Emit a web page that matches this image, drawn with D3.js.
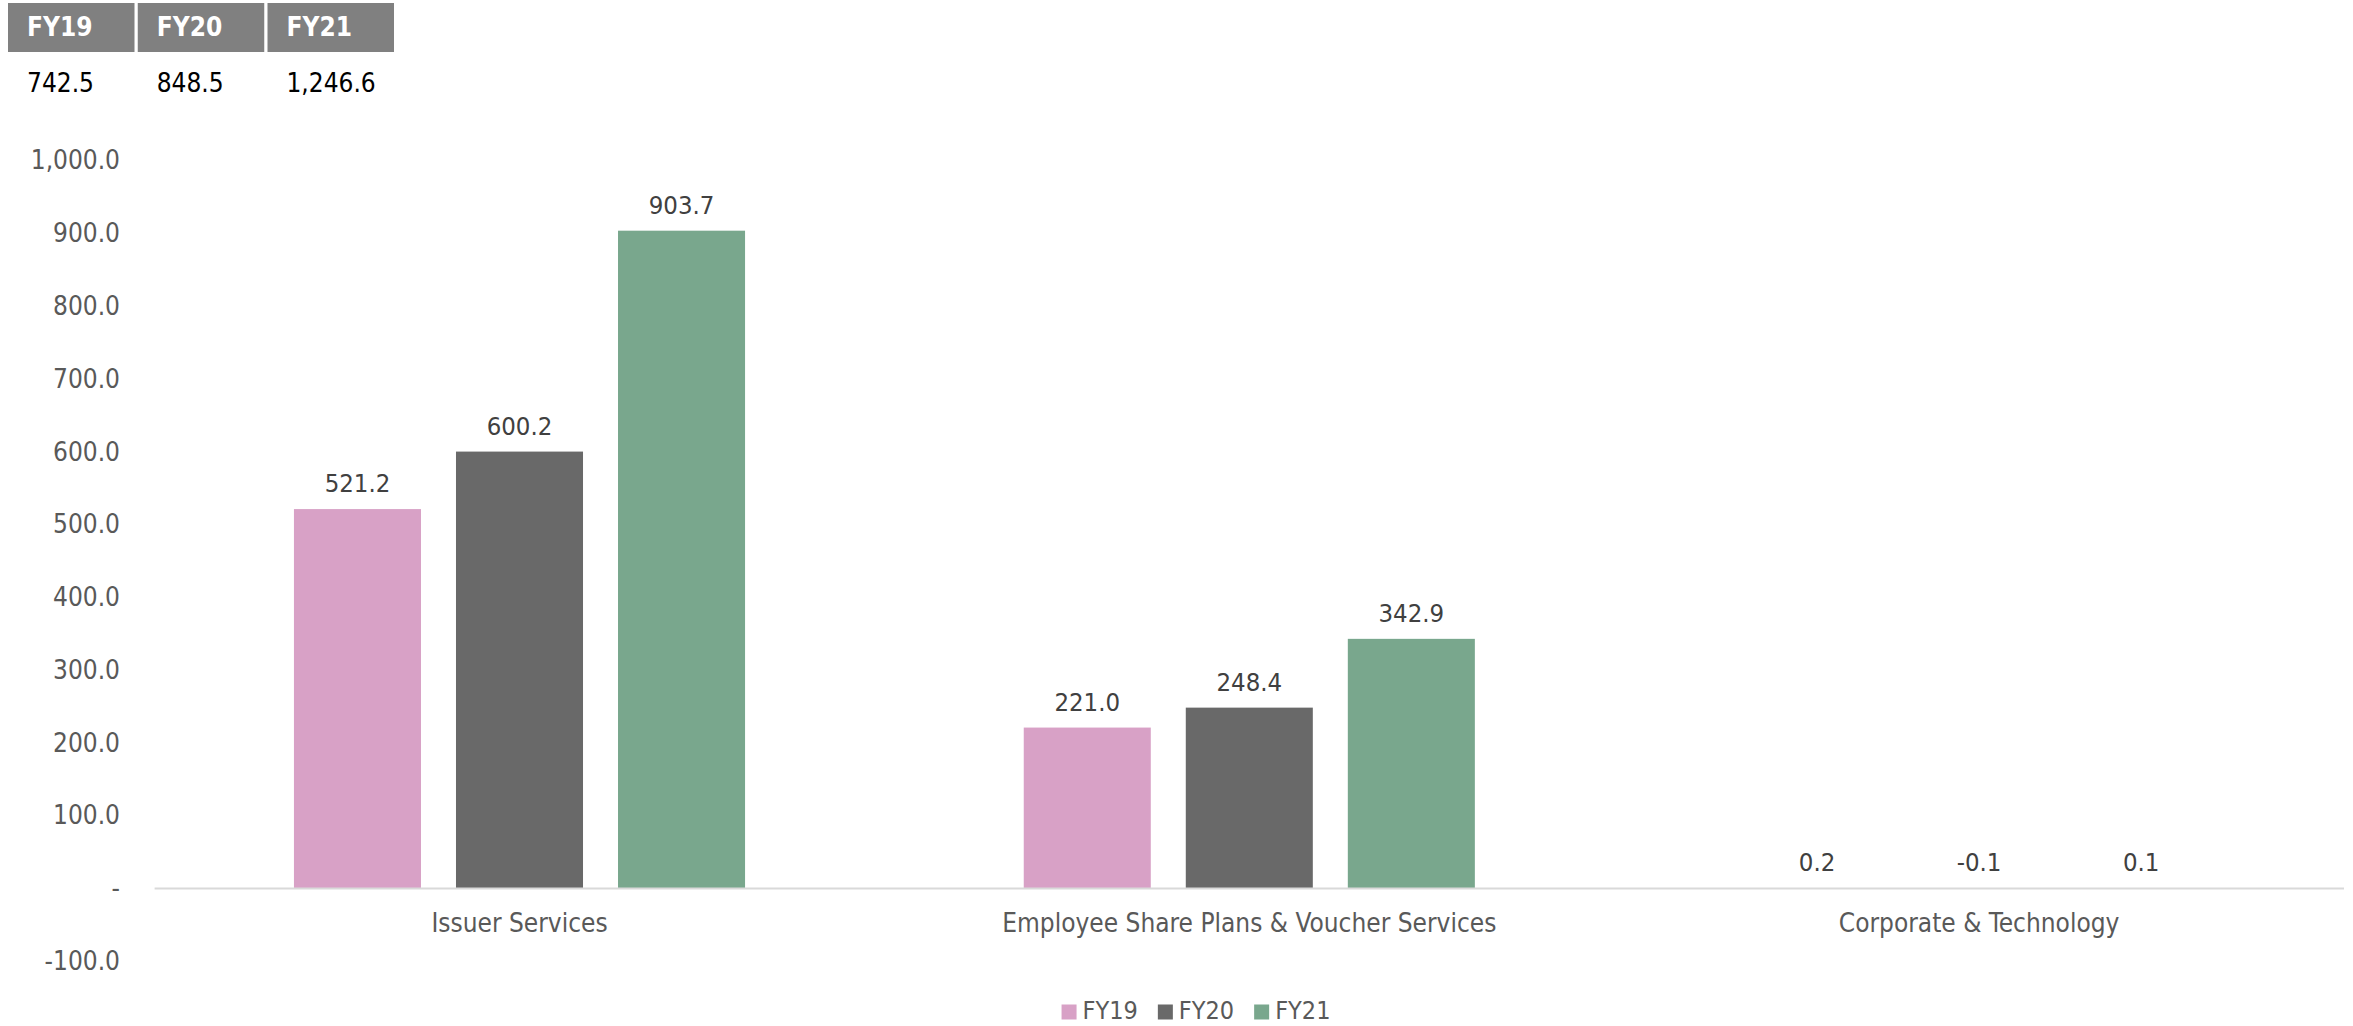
<!DOCTYPE html>
<html>
<head>
<meta charset="utf-8">
<script src="https://cdn.jsdelivr.net/npm/d3@7/dist/d3.min.js"></script>
<style>
  html, body { margin: 0; padding: 0; background: #ffffff; }
  svg { display: block; }
  text { font-family: "DejaVu Sans", "Liberation Sans", sans-serif; font-stretch: condensed; }
</style>
</head>
<body>
<svg id="chart" width="2353" height="1026"></svg>
<script>
// ---- data ----
const categories = ["Issuer Services", "Employee Share Plans & Voucher Services", "Corporate & Technology"];
const seriesNames = ["FY19", "FY20", "FY21"];
const fy19 = [521.2, 221.0, 0.2];
const fy20 = [600.2, 248.4, -0.1];
const fy21 = [903.7, 342.9, 0.1];
const totals = [742.5, 848.5, 1246.6];
const yTicks = [-100, 0, 100, 200, 300, 400, 500, 600, 700, 800, 900, 1000];
const colors = ["#D8A1C6", "#696969", "#79A78D"];

const seriesValues = [fy19, fy20, fy21];

const svg = d3.select("#chart");
const plotLeft = 154.6, plotRight = 2344;

const y = d3.scaleLinear().domain([-100, 1000]).range([961.2, 160.6]);
const x0 = d3.scaleBand().domain(categories).range([plotLeft, plotRight]).paddingInner(0).paddingOuter(0);
const x1 = d3.scaleBand().domain(seriesNames).range([0, x0.bandwidth()]).paddingInner(0.216).paddingOuter(0.86);

const fmt0 = d3.format(",.1f");
const fmt = v => fmt0(v).replace("\u2212", "-");

// y-axis labels (no line)
const yAxis = d3.axisLeft(y).tickValues(yTicks).tickSize(0).tickPadding(0)
  .tickFormat(d => d === 0 ? "-" : fmt(d));
const yg = svg.append("g").attr("transform", "translate(120,0)").call(yAxis);
yg.select(".domain").remove();
yg.selectAll("text").attr("fill", "#595959").style("font-size", "26px")
  .style("font-family", "\"DejaVu Sans\", sans-serif").style("font-stretch", "condensed");

// bars
const groups = svg.append("g").selectAll("g")
  .data(categories).join("g")
  .attr("transform", d => `translate(${x0(d)},0)`);

groups.each(function(cat, ci) {
  const g = d3.select(this);
  seriesNames.forEach((s, si) => {
    const v = seriesValues[si][ci];
    g.append("rect")
      .attr("x", x1(s))
      .attr("width", x1.bandwidth())
      .attr("y", y(Math.max(v, 0)))
      .attr("height", Math.abs(y(v) - y(0)))
      .attr("fill", colors[si]);
    g.append("text")
      .attr("x", x1(s) + x1.bandwidth() / 2)
      .attr("y", y(Math.max(v, 0)) - 17)
      .attr("text-anchor", "middle")
      .attr("fill", "#404040")
      .style("font-size", "25.5px")
      .text(fmt(v));
  });
});

// x axis line
svg.append("line")
  .attr("x1", plotLeft).attr("x2", plotRight)
  .attr("y1", y(0)).attr("y2", y(0))
  .attr("stroke", "#D9D9D9").attr("stroke-width", 2);

// category labels
const xAxis = d3.axisBottom(x0).tickSize(0).tickPadding(0);
const xg = svg.append("g").attr("transform", `translate(0,${y(0)})`).call(xAxis);
xg.select(".domain").remove();
xg.selectAll("text").attr("fill", "#595959").attr("dy", null).attr("y", 44)
  .style("font-size", "26px")
  .style("font-family", "\"DejaVu Sans\", sans-serif").style("font-stretch", "condensed");

// legend
const legend = svg.append("g");
let lx = 0;
seriesNames.forEach((s, i) => {
  const it = legend.append("g");
  it.append("rect").attr("x", 0).attr("y", -6.5).attr("width", 15).attr("height", 15).attr("fill", colors[i]);
  const t = it.append("text").attr("x", 21).attr("y", 8).attr("fill", "#595959").style("font-size", "25px").text(s);
  const w = 21 + t.node().getComputedTextLength();
  it.attr("transform", `translate(${lx},0)`);
  lx += w + 20;
});
const legendW = lx - 20;
legend.attr("transform", `translate(${1196 - legendW / 2},1011)`);

// header table
const xt = d3.scaleBand().domain(seriesNames).range([8, 394]).paddingInner(0.025).paddingOuter(0);
const table = svg.append("g");
seriesNames.forEach((s, i) => {
  table.append("rect").attr("x", xt(s)).attr("y", 3).attr("width", xt.bandwidth()).attr("height", 49)
    .attr("fill", "#808080");
  table.append("text").attr("x", xt(s) + 19).attr("y", 36).attr("fill", "#ffffff")
    .style("font-size", "26px").style("font-weight", "bold").text(s);
  table.append("text").attr("x", xt(s) + 19).attr("y", 92).attr("fill", "#000000")
    .style("font-size", "26px").text(fmt(totals[i]));
});
</script>
</body>
</html>
